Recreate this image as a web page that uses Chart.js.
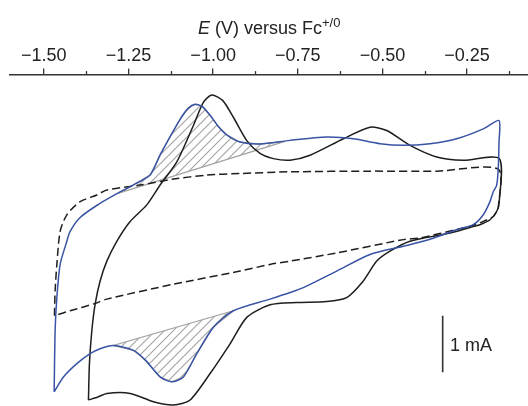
<!DOCTYPE html>
<html>
<head>
<meta charset="utf-8">
<script src="https://cdn.jsdelivr.net/npm/chart.js@4"></script>
<style>
  body { margin: 0; background: #fff; }
  #wrap { position: relative; width: 528px; height: 406px; font-family: "Liberation Sans", Arial, sans-serif; color: #222; }
  #axisTitle { position: absolute; left: 198px; top: 19px; font-size: 18px; line-height: 18px; white-space: nowrap; }
  #axisTitle sup { font-size: 13px; position: relative; top: -7px; vertical-align: baseline; }
  #barLabel { position: absolute; left: 450px; top: 336px; font-size: 18px; line-height: 18px; white-space: nowrap; }
</style>
</head>
<body>
<div id="wrap">
  <canvas id="cv" width="528" height="406"></canvas>
  <div id="axisTitle"><i>E</i> (V) versus Fc<sup>+/0</sup></div>
  <div id="barLabel">1 mA</div>
</div>
<script>
// potential axis (V vs Fc+/0)
const xMin = -1.6, xMax = -0.07;
const yMin = -3.088, yMax = 2.772;
const majorTicks = [-1.5, -1.25, -1.0, -0.75, -0.5, -0.25];
const minorTicks = [-1.375, -1.125, -0.875, -0.625, -0.375, -0.125];

// blue CV, upper branch then lower branch (mA)
const blueFwdE = [-1.4696, -1.4667, -1.4616, -1.4519, -1.4321, -1.4224, -1.3928, -1.3397, -1.2895, -1.2364, -1.1862, -1.1566, -1.1360, -1.0976, -1.0740, -1.0533, -1.0326, -1.0090, -0.9854, -0.9588, -0.9204, -0.8614, -0.7728, -0.6645, -0.5859, -0.5071, -0.4383, -0.3595, -0.2806, -0.2021, -0.1557];
const blueFwdI = [-2.837, -1.754, -1.170, -0.584, -0.175, 0.000, 0.246, 0.474, 0.649, 0.819, 0.995, 1.351, 1.579, 1.982, 2.175, 2.246, 2.211, 2.053, 1.860, 1.702, 1.579, 1.544, 1.609, 1.667, 1.637, 1.549, 1.521, 1.549, 1.637, 1.812, 1.960];
const blueRevE = [-0.1557, -0.1578, -0.1625, -0.1726, -0.1823, -0.2021, -0.2316, -0.2806, -0.3595, -0.4383, -0.5366, -0.6349, -0.7335, -0.7728, -0.8319, -0.9402, -0.9993, -1.0483, -1.0879, -1.1221, -1.1566, -1.1996, -1.2354, -1.2945, -1.3338, -1.3633, -1.4026, -1.4421, -1.4696];
const blueRevI = [1.579, 1.111, 0.819, 0.702, 0.526, 0.293, 0.118, 0.030, -0.140, -0.263, -0.409, -0.702, -0.995, -1.082, -1.198, -1.404, -1.696, -2.163, -2.574, -2.661, -2.574, -2.281, -2.105, -2.018, -2.075, -2.163, -2.339, -2.574, -2.837];

// black CV (closed loop)
const blackE = [-1.3683, -1.3654, -1.3583, -1.3485, -1.3338, -1.3140, -1.2845, -1.2452, -1.1959, -1.1566, -1.1073, -1.0583, -1.0288, -1.0040, -0.9721, -0.9402, -0.9006, -0.8614, -0.8221, -0.7728, -0.7138, -0.6154, -0.5366, -0.4873, -0.4185, -0.3397, -0.2611, -0.1549,
  -0.1549, -0.1625, -0.1823, -0.2118, -0.2414, -0.3004, -0.4185, -0.4776, -0.5168, -0.5564, -0.6054, -0.6645, -0.7530, -0.8319, -0.9006, -0.9500, -1.0090, -1.0681, -1.1174, -1.1764, -1.2452, -1.3140, -1.3388, -1.3683];
const blackI = [-2.982, -2.339, -1.754, -1.286, -0.877, -0.526, -0.175, 0.175, 0.468, 0.819, 1.228, 1.872, 2.281, 2.412, 2.316, 2.018, 1.605, 1.377, 1.286, 1.258, 1.346, 1.637, 1.842, 1.784, 1.521, 1.316, 1.258, 1.286,
  0.526, 0.351, 0.205, 0.118, 0.070, -0.030, -0.175, -0.351, -0.526, -0.877, -1.170, -1.240, -1.258, -1.298, -1.521, -1.988, -2.514, -2.982, -3.070, -3.012, -2.865, -2.865, -2.925, -2.982];

// blank (dashed, closed loop)
const dashE = [-1.4687, -1.4667, -1.4616, -1.4519, -1.4321, -1.3928, -1.3435, -1.3140, -1.2157, -1.1174, -1.0188, -0.9204, -0.7728, -0.5366, -0.3397, -0.1578,
  -0.1578, -0.1625, -0.1726, -0.2021, -0.2414, -0.2806, -0.3890, -0.4383, -0.6349, -0.7728, -0.8319, -0.9204, -1.1174, -1.3140, -1.3485, -1.4224, -1.4687];
const dashI = [-1.491, -1.053, -0.584, 0.000, 0.293, 0.526, 0.644, 0.732, 0.819, 0.925, 0.995, 1.023, 1.053, 1.065, 1.065, 1.100,
  0.409, 0.351, 0.263, 0.175, 0.088, 0.035, -0.118, -0.146, -0.381, -0.526, -0.584, -0.702, -0.935, -1.198, -1.275, -1.404, -1.491];

// hatched areas: baseline end points
const upperHatchE = [-1.281, -0.788];
const upperHatchI = [0.672, 1.591];
const lowerHatchE = [-1.2945, -0.9402];
const lowerHatchI = [-2.018, -1.404];

// 1 mA scale bar
const scaleBarE = -0.322;
const scaleBarI = [-2.49, -1.49];

const pts = (E, I) => E.map((e, i) => ({ x: e, y: I[i] }));

const blueLoop = pts(blueFwdE.concat(blueRevE), blueFwdI.concat(blueRevI));

const upStart = { x: upperHatchE[0], y: upperHatchI[0] };
const upEnd = { x: upperHatchE[1], y: upperHatchI[1] };
const upperEdge = pts(blueFwdE, blueFwdI).filter(p => p.x > upperHatchE[0] && p.x < upperHatchE[1]);
const upperHatch = [upStart, ...upperEdge, upEnd, upStart];

const lowerEdge = pts(blueRevE, blueRevI).filter(p => p.x >= lowerHatchE[0] && p.x <= lowerHatchE[1]);
const lowerHatch = [...lowerEdge, { x: lowerHatchE[1], y: lowerHatchI[1] }];

// diagonal hatch pattern
function hatchPattern() {
  const n = 9;
  const c = document.createElement('canvas');
  c.width = n; c.height = n;
  const g = c.getContext('2d');
  g.strokeStyle = '#a2a2a2';
  g.lineWidth = 1.1;
  g.beginPath();
  g.moveTo(0, n); g.lineTo(n, 0);
  g.moveTo(-1, 1); g.lineTo(1, -1);
  g.moveTo(n - 1, n + 1); g.lineTo(n + 1, n - 1);
  g.stroke();
  return g.createPattern(c, 'repeat');
}
const hatch = hatchPattern();

const minorTickPlugin = {
  id: 'minorTicks',
  afterDraw(chart) {
    const sx = chart.scales.x, ctx = chart.ctx, top = chart.chartArea.top;
    ctx.save();
    ctx.strokeStyle = '#333';
    ctx.lineWidth = 1.3;
    minorTicks.forEach(v => {
      const px = Math.round(sx.getPixelForValue(v)) + 0.5;
      ctx.beginPath();
      ctx.moveTo(px, top);
      ctx.lineTo(px, top - 3.5);
      ctx.stroke();
    });
    ctx.restore();
  }
};

const line = (data, color, extra) => Object.assign({
  data: data, showLine: true, pointRadius: 0, borderColor: color,
  borderWidth: 1.5, tension: 0.25, fill: false, order: 1
}, extra);

new Chart(document.getElementById('cv').getContext('2d'), {
  type: 'scatter',
  data: {
    datasets: [
      line(upperHatch, '#a2a2a2', { fill: 'shape', backgroundColor: hatch, borderWidth: 1.2, tension: 0, order: 5 }),
      line(lowerHatch, '#a2a2a2', { fill: 'shape', backgroundColor: hatch, borderWidth: 1.2, tension: 0, order: 5 }),
      line(pts(dashE, dashI), '#1e1e1e', { borderDash: [8, 4], order: 3 }),
      line(pts(blackE, blackI), '#1e1e1e', { order: 2 }),
      line(blueLoop, '#3853a4', { order: 1 }),
      line(pts([scaleBarE, scaleBarE], scaleBarI), '#333', { borderWidth: 1.6, tension: 0 })
    ]
  },
  options: {
    responsive: false,
    animation: false,
    layout: { padding: { top: 43, left: 10, right: 0, bottom: 0 } },
    plugins: { legend: { display: false }, tooltip: { enabled: false } },
    scales: {
      x: {
        type: 'linear',
        position: 'top',
        min: xMin,
        max: xMax,
        afterBuildTicks: s => { s.ticks = majorTicks.map(v => ({ value: v })); },
        ticks: {
          callback: v => '\u2212' + Math.abs(v).toFixed(2),
          color: '#222',
          font: { family: '"Liberation Sans", Arial, sans-serif', size: 18 },
          padding: 2,
          maxRotation: 0,
          autoSkip: false
        },
        grid: { drawOnChartArea: false, drawTicks: true, tickLength: 6, color: '#333', lineWidth: 1.3 },
        border: { display: true, color: '#333', width: 1.5 }
      },
      y: { display: false, min: yMin, max: yMax }
    }
  },
  plugins: [minorTickPlugin]
});
</script>
</body>
</html>
